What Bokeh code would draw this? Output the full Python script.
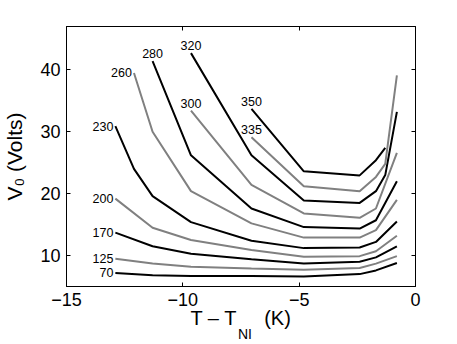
from bokeh.plotting import figure
from bokeh.models import Range1d, LinearAxis, FixedTicker, ColumnDataSource
from bokeh.embed import file_html
from bokeh.resources import INLINE
from bokeh.core.properties import value

FONT = "Liberation Sans"

# Curve data (x = T - T_NI in K, y = V0 in Volts)
labels = ["70", "125", "170", "200", "230", "260", "280", "300", "320", "335", "350"]
x70 = [-12.9, -11.3, -9.65, -7.05, -4.8, -2.4, -1.7, -0.8]
y70 = [7.2, 6.8, 6.7, 6.7, 6.6, 7.0, 7.6, 8.8]
x125 = [-12.9, -11.3, -9.65, -7.05, -4.8, -2.4, -1.7, -0.8]
y125 = [9.5, 8.7, 8.2, 7.9, 7.7, 8.0, 8.7, 9.9]
x170 = [-12.9, -11.3, -9.65, -7.05, -4.8, -2.4, -1.7, -0.8]
y170 = [13.7, 11.5, 10.3, 9.4, 8.7, 9.0, 9.7, 11.5]
x200 = [-12.9, -11.3, -9.65, -7.05, -4.8, -2.4, -1.7, -0.8]
y200 = [19.2, 14.5, 12.5, 10.9, 9.8, 9.9, 10.7, 13.2]
x230 = [-12.9, -12.1, -11.3, -9.65, -7.05, -4.8, -2.4, -1.7, -0.8]
y230 = [30.9, 24.0, 19.6, 15.4, 12.4, 11.2, 11.3, 12.2, 15.5]
x260 = [-12.1, -11.3, -9.65, -7.05, -4.8, -2.4, -1.7, -0.8]
y260 = [39.5, 30.0, 20.4, 15.2, 12.9, 12.9, 14.1, 19.0]
x280 = [-11.3, -9.65, -7.05, -4.8, -2.4, -1.7, -0.8]
y280 = [41.4, 26.2, 17.6, 14.6, 14.35, 15.7, 22.0]
x300 = [-9.65, -7.05, -4.8, -2.4, -1.7, -0.8]
y300 = [33.4, 21.4, 16.8, 16.1, 17.6, 26.6]
x320 = [-9.65, -7.05, -4.8, -2.4, -1.7, -1.3, -0.8]
y320 = [42.7, 26.2, 18.9, 18.5, 20.4, 23.0, 33.2]
x335 = [-7.05, -4.8, -2.4, -1.7, -1.3, -0.8]
y335 = [29.1, 21.2, 20.4, 22.7, 24.8, 39.1]
x350 = [-7.05, -4.8, -2.4, -1.7, -1.3]
y350 = [33.7, 23.6, 22.95, 25.4, 27.4]

xs_all = [x70, x125, x170, x200, x230, x260, x280, x300, x320, x335, x350]
ys_all = [y70, y125, y170, y200, y230, y260, y280, y300, y320, y335, y350]
colors = ["#000000", "#808080"] * 6
label_above = ["280", "300", "320", "335", "350"]

x_ticks = [-15, -10, -5, 0]
y_ticks = [10, 20, 30, 40]

p = figure(output_backend="svg", toolbar_location=None,
           frame_width=349, frame_height=260,
           x_range=Range1d(-15, 0), y_range=Range1d(5, 47),
           min_border_left=66, min_border_right=30,
           min_border_top=26, min_border_bottom=56)
p.background_fill_color = "white"
p.border_fill_color = "white"
p.grid.visible = False
p.outline_line_color = "black"
p.outline_line_width = 1
p.outline_line_alpha = 1

for ax in (p.xaxis[0], p.yaxis[0]):
    ax.major_tick_in = 4
    ax.major_tick_out = 0
    ax.minor_tick_in = 0
    ax.minor_tick_out = 0
    ax.axis_line_color = "black"
    ax.major_tick_line_color = "black"
    ax.major_label_text_font = FONT
    ax.major_label_text_font_size = "18px"
    ax.major_label_text_color = "black"
    ax.major_label_standoff = 6

p.xaxis[0].ticker = FixedTicker(ticks=x_ticks)
p.yaxis[0].ticker = FixedTicker(ticks=y_ticks)
p.xaxis[0].major_label_overrides = {t: (("\u2212" + str(-t)) if t < 0 else str(t)) for t in x_ticks}

p.yaxis[0].axis_label = "V\u2080 (Volts)"
p.yaxis[0].axis_label_text_font = FONT
p.yaxis[0].axis_label_text_font_size = "21px"
p.yaxis[0].axis_label_text_font_style = "normal"
p.yaxis[0].axis_label_text_color = "black"
p.yaxis[0].axis_label_standoff = 11

# x label: main part on the axis, subscript on a second bare axis below
p.xaxis[0].axis_label = "T \u2013 T" + "\u00a0" * 5 + "(K)"
p.xaxis[0].axis_label_text_font = FONT
p.xaxis[0].axis_label_text_font_size = "20px"
p.xaxis[0].axis_label_text_font_style = "normal"
p.xaxis[0].axis_label_text_color = "black"
p.xaxis[0].axis_label_standoff = -2

sub = LinearAxis(ticker=FixedTicker(ticks=[]))
sub.axis_line_color = None
sub.major_tick_line_color = None
sub.minor_tick_line_color = None
sub.major_tick_in = 0
sub.major_tick_out = 0
sub.minor_tick_in = 0
sub.minor_tick_out = 0
sub.major_label_standoff = 0
sub.axis_label = "\u00a0\u00a0NI"
sub.axis_label_text_font = FONT
sub.axis_label_text_font_size = "14px"
sub.axis_label_text_font_style = "normal"
sub.axis_label_text_color = "black"
sub.axis_label_standoff = -6
p.add_layout(sub, "below")

# top and right axes: ticks only
top = LinearAxis(ticker=FixedTicker(ticks=x_ticks))
right = LinearAxis(ticker=FixedTicker(ticks=y_ticks))
top.major_label_overrides = {t: "" for t in x_ticks}
right.major_label_overrides = {t: "" for t in y_ticks}
for ax in (top, right):
    ax.major_tick_in = 4
    ax.major_tick_out = 0
    ax.minor_tick_in = 0
    ax.minor_tick_out = 0
    ax.major_label_standoff = 0
    ax.axis_line_color = "black"
    ax.major_tick_line_color = "black"
p.add_layout(top, "above")
p.add_layout(right, "right")

for xs, ys, c in zip(xs_all, ys_all, colors):
    p.line(xs, ys, line_color=c, line_width=2)

left_src = ColumnDataSource(dict(
    x=[xs[0] for xs, l in zip(xs_all, labels) if l not in label_above],
    y=[ys[0] for ys, l in zip(ys_all, labels) if l not in label_above],
    t=[l for l in labels if l not in label_above]))
above_src = ColumnDataSource(dict(
    x=[xs[0] for xs, l in zip(xs_all, labels) if l in label_above],
    y=[ys[0] for ys, l in zip(ys_all, labels) if l in label_above],
    t=[l for l in labels if l in label_above]))

p.text(x="x", y="y", text="t", source=left_src, text_align="right",
       text_baseline="middle", x_offset=-2, text_font=value(FONT),
       text_font_size="12.5px", text_color="black")
p.text(x="x", y="y", text="t", source=above_src, text_align="center",
       text_baseline="bottom", y_offset=-3, text_font=value(FONT),
       text_font_size="12.5px", text_color="black")

open("out.html", "w").write(file_html(p, INLINE))
